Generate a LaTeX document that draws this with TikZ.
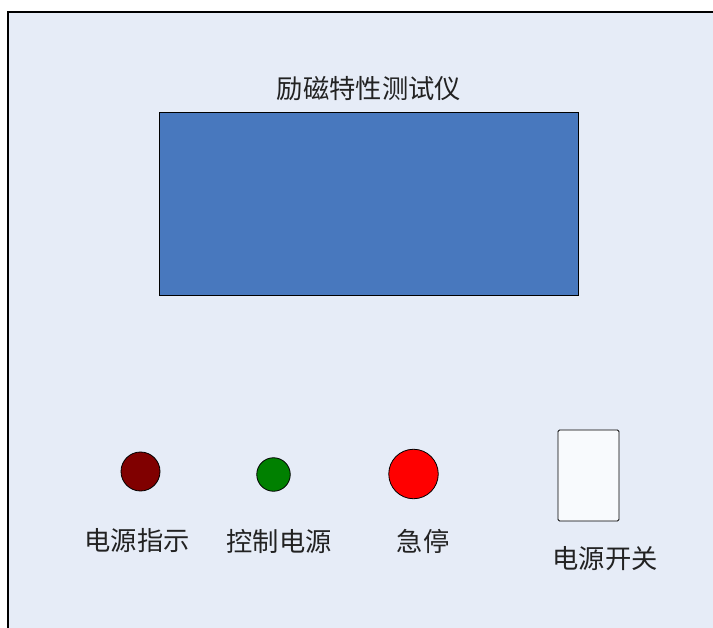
\documentclass[tikz,border=0pt]{standalone}
\usepackage{fontspec}
\newfontfamily\cjk{Noto Sans CJK SC}
\definecolor{panel}{HTML}{E6ECF7}
\definecolor{screen}{HTML}{4878BE}
\definecolor{switchfill}{HTML}{F8FAFD}
\definecolor{darkred}{HTML}{800000}
\definecolor{ledgreen}{HTML}{008000}
\definecolor{txt}{HTML}{222222}
\tikzset{
  lbl/.style={font=\cjk\fontsize{26.3}{30}\selectfont, text=txt, inner sep=0pt},
  lamp/.style={circle, draw=black, line width=0.8pt, inner sep=0pt},
}
\begin{document}
\begin{tikzpicture}[x=1pt,y=-1pt]
\useasboundingbox (0,0) rectangle (713,628);
\fill[white] (0,0) rectangle (713,628);
\fill[panel] (8,12) rectangle (713,628);
\draw[line width=1.6pt, black] (8,628) -- (8,12) -- (713,12);
\node[lbl] (title) at (369,89) {励磁特性测试仪};
\node[draw=black, line width=0.8pt, fill=screen, minimum width=419pt, minimum height=183pt, inner sep=0pt] (screen) at (368.5,203.5) {};
\node[lamp, fill=darkred, minimum size=39pt] (pwr) at (140.5,471.5) {};
\node[lamp, fill=ledgreen, minimum size=33.5pt] (ctl) at (273.5,474.5) {};
\node[lamp, fill=red, minimum size=49.5pt] (stop) at (413.5,474) {};
\node[draw=black, line width=0.8pt, fill=switchfill, rounded corners=1.5pt, minimum width=61pt, minimum height=91pt, inner sep=0pt] (sw) at (588.5,475.5) {};
\node[lbl] (pwrl) at (137,541) {电源指示};
\node[lbl] (ctll) at (279,541) {控制电源};
\node[lbl] (stopl) at (423,541) {急停};
\node[lbl] (swl) at (605,559) {电源开关};
\end{tikzpicture}
\end{document}
